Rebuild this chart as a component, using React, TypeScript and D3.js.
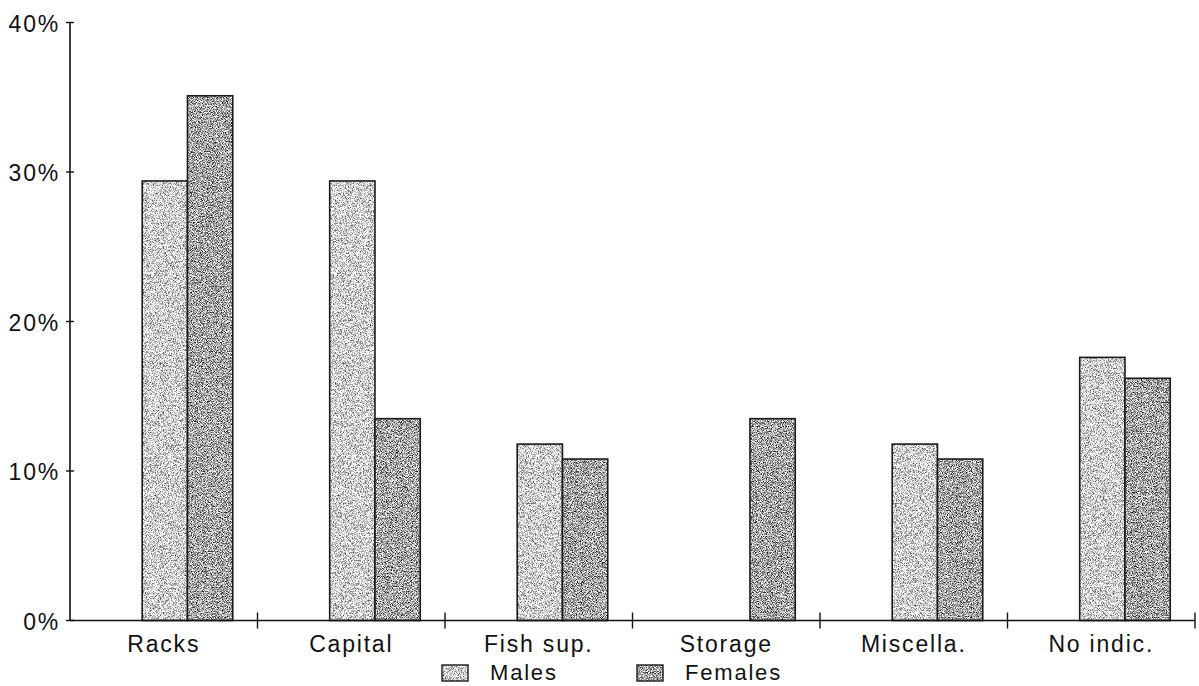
import React from "react";
import * as d3 from "d3";

// Share of activities by sex, in percent
const categories = ["Racks", "Capital", "Fish sup.", "Storage", "Miscella.", "No indic."];
const males = [29.4, 29.4, 11.8, 0, 11.8, 17.6];
const females = [35.1, 13.5, 10.8, 13.5, 10.8, 16.2];
const seriesNames = ["Males", "Females"];
const yTicks = [0, 10, 20, 30, 40];

const W = 1199;
const H = 686;
const left = 70;
const right = 1195;
const top = 22.5;
const base = 620.5;
const FONT = "'Liberation Sans', Arial, sans-serif";

export default function App() {
  const x = d3.scaleBand<string>().domain(categories).range([left, right]).padding(0);
  const bw = x.bandwidth();
  const inner = d3.scaleBand<string>().domain(seriesNames).range([bw * 0.385, bw * 0.868]).padding(0);
  const y = d3.scaleLinear().domain([0, 40]).range([base, top]);

  const series = [
    { name: "Males", values: males, filter: "url(#grainLight)" },
    { name: "Females", values: females, filter: "url(#grainDark)" },
  ];

  const boundaries = categories.map((c) => (x(c) as number) + bw);

  const textStyle: React.CSSProperties = {
    fontFamily: FONT,
    fontSize: 23,
    letterSpacing: "1.8px",
    fill: "#111",
  };

  return (
    <svg
      width={W}
      height={H}
      style={{ position: "absolute", left: 0, top: 0, background: "#fff" }}
    >
      <defs>
        <filter id="grainLight" x="0" y="0" width="1" height="1" colorInterpolationFilters="sRGB">
          <feTurbulence type="fractalNoise" baseFrequency="1.4" numOctaves={1} seed={3} result="n" />
          <feColorMatrix
            in="n"
            type="matrix"
            values="2.0 0 0 0 -0.17  2.0 0 0 0 -0.17  2.0 0 0 0 -0.17  0 0 0 0 1"
            result="g"
          />
          <feComposite in="g" in2="SourceGraphic" operator="in" />
        </filter>
        <filter id="grainDark" x="0" y="0" width="1" height="1" colorInterpolationFilters="sRGB">
          <feTurbulence type="fractalNoise" baseFrequency="1.2" numOctaves={1} seed={7} result="n" />
          <feColorMatrix
            in="n"
            type="matrix"
            values="2.4 0 0 0 -0.55  2.4 0 0 0 -0.55  2.4 0 0 0 -0.55  0 0 0 0 1"
            result="g"
          />
          <feComposite in="g" in2="SourceGraphic" operator="in" />
        </filter>
      </defs>

      {/* bars */}
      {series.map((s) =>
        categories.map((c, i) => {
          const v = s.values[i];
          if (!v) return null;
          const bx = (x(c) as number) + (inner(s.name) as number);
          const by = y(v);
          const bh = base - by;
          return (
            <g key={s.name + c}>
              <rect x={bx} y={by} width={inner.bandwidth()} height={bh} fill="#999" filter={s.filter} />
              <rect
                x={bx}
                y={by}
                width={inner.bandwidth()}
                height={bh}
                fill="none"
                stroke="#1a1a1a"
                strokeWidth={1.6}
              />
            </g>
          );
        })
      )}

      {/* y axis */}
      <line x1={left} x2={left} y1={top} y2={base} stroke="#111" strokeWidth={1.6} />
      {yTicks.map((t) => (
        <g key={t}>
          <line x1={left - 4} x2={left + 4} y1={y(t)} y2={y(t)} stroke="#111" strokeWidth={1.4} />
          <text x={60} y={y(t) + 9} textAnchor="end" style={textStyle}>
            {`${t}%`}
          </text>
        </g>
      ))}

      {/* x axis */}
      <line x1={left} x2={right} y1={base} y2={base} stroke="#111" strokeWidth={1.6} />
      {boundaries.map((b, i) => (
        <line key={i} x1={b} x2={b} y1={base - 8} y2={base + 8} stroke="#111" strokeWidth={1.4} />
      ))}
      {categories.map((c) => (
        <text key={c} x={(x(c) as number) + bw / 2} y={652} textAnchor="middle" style={textStyle}>
          {c}
        </text>
      ))}

      {/* legend */}
      {series.map((s, i) => {
        const lx = i === 0 ? 442 : 637;
        return (
          <g key={s.name}>
            <rect x={lx} y={665} width={26} height={16} fill="#999" filter={s.filter} />
            <rect x={lx} y={665} width={26} height={16} fill="none" stroke="#1a1a1a" strokeWidth={1.4} />
            <text x={lx + 48} y={680} style={{ ...textStyle, fontSize: 22 }}>
              {s.name}
            </text>
          </g>
        );
      })}
    </svg>
  );
}
